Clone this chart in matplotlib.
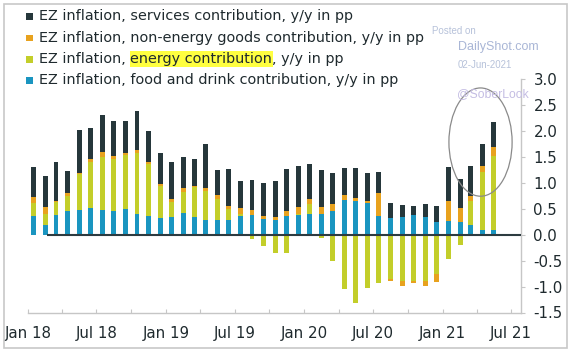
import matplotlib
matplotlib.use("Agg")
import matplotlib.pyplot as plt
import matplotlib.dates as mdates
import matplotlib.transforms as mtransforms
from matplotlib.patches import Rectangle, Ellipse
import numpy as np
import pandas as pd

# ---------------- data ----------------
months = pd.date_range("2018-01-01", periods=41, freq="MS")

food = [0.36, 0.19, 0.39, 0.45, 0.48, 0.52, 0.48, 0.46, 0.50, 0.41, 0.36, 0.32,
        0.34, 0.42, 0.34, 0.28, 0.28, 0.29, 0.37, 0.39, 0.30, 0.28, 0.37, 0.38,
        0.40, 0.40, 0.46, 0.68, 0.65, 0.61, 0.36, 0.33, 0.34, 0.38, 0.35, 0.24,
        0.26, 0.25, 0.19, 0.09, 0.09]
energy = [0.25, 0.22, 0.24, 0.29, 0.69, 0.88, 1.02, 1.00, 1.05, 1.16, 1.00, 0.62,
          0.29, 0.40, 0.59, 0.57, 0.41, 0.20, 0.03, -0.09, -0.22, -0.36, -0.36, 0.02,
          0.19, -0.06, -0.50, -1.05, -1.31, -1.03, -0.93, -0.85, -0.89, -0.89, -0.89, -0.76,
          -0.47, -0.20, 0.47, 1.12, 1.43]
goods = [0.12, 0.12, 0.03, 0.06, 0.03, 0.06, 0.10, 0.06, 0.02, 0.06, 0.05, 0.04,
         0.07, 0.08, 0.02, 0.06, 0.08, 0.07, 0.11, 0.09, 0.06, 0.07, 0.09, 0.13,
         0.10, 0.14, 0.14, 0.09, 0.06, 0.05, 0.44, -0.05, -0.10, -0.04, -0.10, -0.16,
         0.40, 0.27, 0.08, 0.12, 0.18]
services = [0.57, 0.60, 0.74, 0.44, 0.82, 0.61, 0.71, 0.67, 0.62, 0.76, 0.60, 0.59,
            0.70, 0.61, 0.51, 0.84, 0.48, 0.71, 0.52, 0.58, 0.64, 0.68, 0.81, 0.79,
            0.67, 0.71, 0.59, 0.52, 0.58, 0.53, 0.42, 0.28, 0.23, 0.18, 0.25, 0.31,
            0.64, 0.56, 0.59, 0.42, 0.48]

series_labels = ["EZ inflation, services contribution, y/y in pp",
                 "EZ inflation, non-energy goods contribution, y/y in pp",
                 "EZ inflation, energy contribution, y/y in pp",
                 "EZ inflation, food and drink contribution, y/y in pp"]

tick_dates = pd.date_range("2018-01-01", "2021-07-01", freq="QS")
tick_labels = ["Jan 18", "", "Jul 18", "", "Jan 19", "", "Jul 19", "",
               "Jan 20", "", "Jul 20", "", "Jan 21", "", "Jul 21"]
y_ticks = [-1.5, -1.0, -0.5, 0.0, 0.5, 1.0, 1.5, 2.0, 2.5, 3.0]

# ---------------- style ----------------
C_SERV = "#26373b"
C_GOODS = "#e8a21e"
C_ENERGY = "#c3ce2a"
C_FOOD = "#1a95c0"
TXT = "#1f2a2e"
FONT = "DejaVu Sans"
FS = 10.4
FS_TICK = 10.8

plt.rcParams["font.family"] = [FONT]
plt.rcParams["axes.unicode_minus"] = False

W, H = 573, 353
fig = plt.figure(figsize=(W / 100, H / 100), dpi=100)
fx = lambda px: px / W
fy = lambda py: 1 - py / H

ax = fig.add_axes([fx(28), fy(312.5), fx(521) - fx(28), fy(79.4) - fy(312.5)])

x = mdates.date2num(months + pd.Timedelta(days=15))
bw = 13

pos_base = np.zeros(len(x))
neg_base = np.zeros(len(x))
for vals, col in [(food, C_FOOD), (energy, C_ENERGY), (goods, C_GOODS), (services, C_SERV)]:
    v = np.array(vals)
    p = np.where(v > 0, v, 0)
    n = np.where(v < 0, v, 0)
    ax.bar(x, p, bottom=pos_base, width=bw, color=col, linewidth=0, zorder=2)
    ax.bar(x, n, bottom=neg_base, width=bw, color=col, linewidth=0, zorder=2)
    pos_base += p
    neg_base += n

xmin = mdates.date2num(pd.Timestamp("2018-01-01"))
xmax = mdates.date2num(pd.Timestamp("2021-07-27"))
ax.set_xlim(xmin, xmax)
ax.set_ylim(-1.5, 3.0)

ax.hlines(0, mdates.date2num(pd.Timestamp("2018-02-21")), xmax, color="#2d3b40", lw=1.5, zorder=3)

# axes styling
for s in ["left", "top"]:
    ax.spines[s].set_visible(False)
for s in ["right", "bottom"]:
    ax.spines[s].set_color("#c6c6c6")
    ax.spines[s].set_linewidth(1.0)
ax.yaxis.tick_right()
ax.set_yticks(y_ticks)
ax.set_yticklabels([f"{t:.1f}" for t in y_ticks])
ax.tick_params(axis="y", direction="out", length=3, color="#c6c6c6", pad=6,
               labelsize=FS_TICK, labelcolor=TXT)
ax.set_xticks(mdates.date2num(tick_dates))
ax.set_xticklabels(tick_labels)
ax.tick_params(axis="x", direction="in", length=3, color="#c6c6c6", pad=9.5,
               labelsize=FS_TICK, labelcolor=TXT)

# ellipse highlight
ell = Ellipse((mdates.date2num(pd.Timestamp("2021-04-11")), 1.79), width=167, height=2.09,
              fill=False, edgecolor="#8a8a8a", lw=0.9, zorder=4)
ax.add_patch(ell)

# custom legend
line_y = [16, 37.7, 59, 80]
cols = [C_SERV, C_GOODS, C_ENERGY, C_FOOD]
fig.canvas.draw()
r = fig.canvas.get_renderer()
for ly, col, lab in zip(line_y, cols, series_labels):
    fig.patches.append(Rectangle((fx(26), fy(ly + 3.5)), fx(6.5), 6.5 / H, transform=fig.transFigure,
                                 facecolor=col, edgecolor="none"))
    if "energy contribution" in lab and "non-energy" not in lab:
        t1 = fig.text(fx(39), fy(ly), "EZ inflation, ", fontsize=FS, color=TXT, va="center")
        b1 = t1.get_window_extent(r)
        t2 = fig.text(b1.x1, b1.y0, "energy contribution", fontsize=FS, color=TXT, va="bottom",
                      transform=mtransforms.IdentityTransform(),
                      bbox=dict(boxstyle="square,pad=0.05", facecolor="#ffff40", edgecolor="none"))
        b2 = t2.get_window_extent(r)
        fig.text(b2.x1, b1.y0, ", y/y in pp", fontsize=FS, color=TXT, va="bottom",
                 transform=mtransforms.IdentityTransform())
    else:
        fig.text(fx(39), fy(ly), lab, fontsize=FS, color=TXT, va="center")

# watermarks
fig.text(fx(432), fy(31), "Posted on", fontsize=7, color="#b7c2da", va="center",
         family=["Liberation Sans"])
fig.text(fx(458), fy(47), "DailyShot.com", fontsize=9, color="#a9b6d6", va="center",
         family=["Liberation Sans"])
fig.text(fx(458), fy(65), "02-Jun-2021", fontsize=7, color="#b7c2da", va="center",
         family=["Liberation Sans"])
fig.text(fx(457), fy(94), "@SoberLook", fontsize=8.8, color="#c4bde3", va="center",
         family=["Liberation Sans"])

# figure border
fig.patches.append(Rectangle((fx(4), fy(348)), fx(563), 344 / H, transform=fig.transFigure,
                             fill=False, edgecolor="#c8c8c8", lw=1.2))

fig.savefig("out.png", dpi=100)
